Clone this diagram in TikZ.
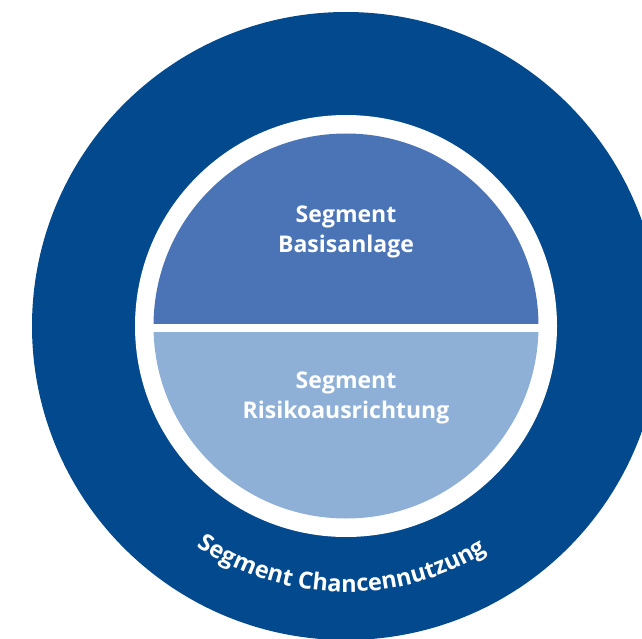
\documentclass[tikz,border=0pt]{standalone}
\usepackage{fontspec}
\setmainfont{Open Sans}
\usetikzlibrary{decorations.text}
\definecolor{outerblue}{RGB}{3,73,142}
\definecolor{topblue}{RGB}{74,116,182}
\definecolor{botblue}{RGB}{143,176,214}
\newcommand\outerfont{\bfseries\fontsize{23.5}{30}\selectfont}
\tikzset{
  seglabel/.style={font=\bfseries\fontsize{23}{30}\selectfont, text=white, align=center, inner sep=0pt},
}
\begin{document}
\begin{tikzpicture}[x=1pt,y=1pt]
\useasboundingbox (0,0) rectangle (642,-639);
\clip (0,0) rectangle (642,-639);
\coordinate (c) at (346,-326);
\fill[outerblue] (c) circle[radius=314];
\fill[white] (c) circle[radius=211];
\begin{scope}
  \clip (0,-323) rectangle (642,0);
  \fill[topblue] (c) circle[radius=192.5];
\end{scope}
\begin{scope}
  \clip (0,-332) rectangle (642,-639);
  \fill[botblue] (c) circle[radius=192.5];
\end{scope}
\node[seglabel] (basis) at (346,-232) {Segment\\Basisanlage};
\node[seglabel] (risiko) at (346,-398) {Segment\\Risikoausrichtung};
\path[decorate, decoration={text along path, text align=center, text color=white,
   text={|\outerfont|Segment Chancennutzung}}]
   ([shift={(200:266)}]c) arc[start angle=200, end angle=338, radius=266];
\end{tikzpicture}
\end{document}
